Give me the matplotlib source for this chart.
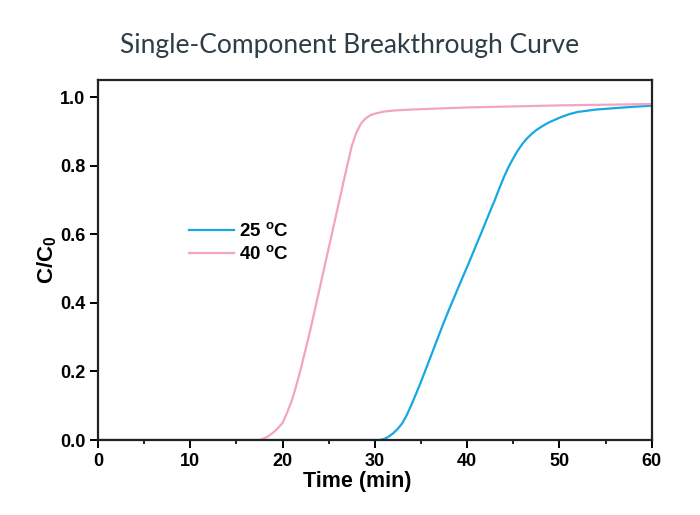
import matplotlib
matplotlib.use("Agg")
import matplotlib.pyplot as plt
from matplotlib.ticker import MultipleLocator

matplotlib.rcParams['font.family'] = 'Liberation Sans'
matplotlib.rcParams['mathtext.fontset'] = 'custom'
matplotlib.rcParams['mathtext.rm'] = 'Liberation Sans:bold'
matplotlib.rcParams['mathtext.bf'] = 'Liberation Sans:bold'
matplotlib.rcParams['mathtext.it'] = 'Liberation Sans:bold'

# breakthrough data
t_25 = [0, 30, 30.5, 31, 31.5, 32, 32.5, 33, 33.5, 34, 34.5, 35, 35.5, 36, 36.5,
        37, 37.5, 38, 38.5, 39, 39.5, 40, 40.5, 41, 41.5, 42, 42.5, 43, 43.5,
        44, 44.5, 45, 45.5, 46, 46.5, 47, 47.5, 48, 48.5, 49, 50, 51, 52, 54, 56,
        58, 60]
c_25 = [0, 0, 0, 0.003, 0.01, 0.02, 0.033, 0.05, 0.075, 0.105, 0.137, 0.17, 0.205,
        0.24, 0.275, 0.31, 0.345, 0.378, 0.41, 0.442, 0.474, 0.505, 0.537, 0.57,
        0.602, 0.635, 0.668, 0.70, 0.735, 0.768, 0.797, 0.822, 0.845, 0.864, 0.88,
        0.893, 0.904, 0.913, 0.921, 0.928, 0.94, 0.95, 0.957, 0.964, 0.968, 0.972,
        0.975]

t_40 = [0, 17.5, 18, 18.5, 19, 19.5, 20, 20.5, 21, 21.5, 22, 22.5, 23, 23.5, 24,
        24.5, 25, 25.5, 26, 26.5, 27, 27.5, 28, 28.5, 29, 29.5, 30, 31, 32, 34,
        36, 40, 45, 50, 55, 60]
c_40 = [0, 0, 0.005, 0.012, 0.022, 0.035, 0.05, 0.08, 0.115, 0.16, 0.21, 0.265,
        0.32, 0.38, 0.44, 0.50, 0.56, 0.62, 0.68, 0.74, 0.80, 0.858, 0.897, 0.923,
        0.938, 0.947, 0.952, 0.958, 0.961, 0.964, 0.966, 0.970, 0.973, 0.976,
        0.978, 0.980]

fig = plt.figure(figsize=(7, 5.15), dpi=100)
ax = fig.add_axes([0.14, 0.1456, 0.791, 0.699])

ax.plot(t_25, c_25, color='#17a8e3', lw=1.6, label='25 $^{o}$C')
ax.plot(t_40, c_40, color='#f3a3c6', lw=1.6, label='40 $^{o}$C')

ax.set_xlim(0, 60)
ax.set_ylim(0, 1.05)
ax.xaxis.set_major_locator(MultipleLocator(10))
ax.xaxis.set_minor_locator(MultipleLocator(5))
ax.yaxis.set_major_locator(MultipleLocator(0.2))
ax.yaxis.set_major_formatter(matplotlib.ticker.FormatStrFormatter('%.1f'))

for s in ax.spines.values():
    s.set_linewidth(1.6)
    s.set_color('#222222')
ax.tick_params(which='major', direction='out', length=6, width=1.4,
               labelsize=13, top=False, right=False, pad=3)
ax.tick_params(which='minor', direction='out', length=3, width=1.2,
               top=False, right=False)
for lab in ax.get_xticklabels() + ax.get_yticklabels():
    lab.set_fontweight('bold')

ax.set_xlabel('Time (min)', fontsize=15.5, fontweight='bold', labelpad=1)
ax.xaxis.label.set_x(0.469)
ax.set_ylabel('C/C$_0$', fontsize=16, fontweight='bold', labelpad=1)

leg = ax.legend(loc='center left', bbox_to_anchor=(0.133, 0.548), frameon=False,
                prop={'weight': 'bold', 'size': 13.5}, handlelength=2.4,
                handletextpad=0.28, labelspacing=0.28)

fig.text(0.5, 0.912, 'Single-Component Breakthrough Curve', ha='center',
         va='center', fontsize=19, color='#2d3e46', family='Lato')

fig.savefig('out.png', dpi=100)
